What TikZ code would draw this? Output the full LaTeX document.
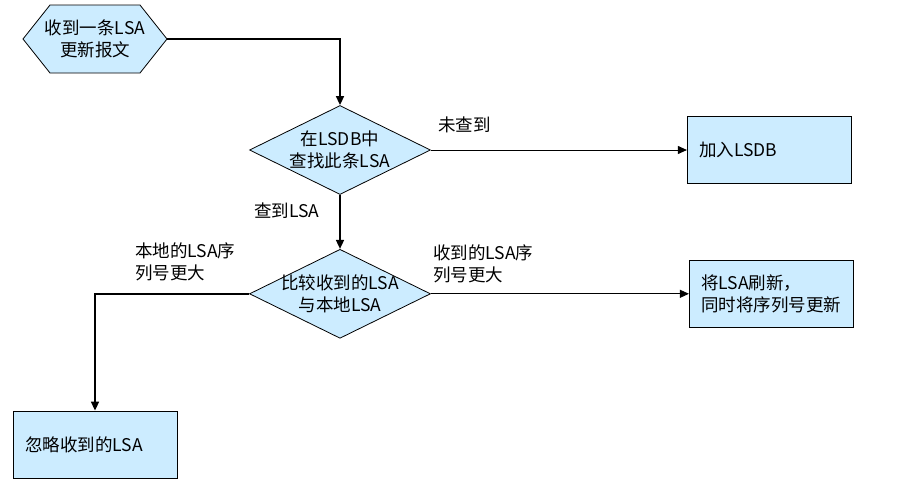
\documentclass[tikz,border=0pt]{standalone}
\usepackage{fontspec}
\setmainfont{Noto Sans CJK SC}
\usetikzlibrary{shapes.geometric, arrows.meta, positioning, backgrounds}
\definecolor{boxblue}{RGB}{204,236,255}

\tikzset{
    base/.style={draw, fill=boxblue, line width=0.8pt, font=\fontsize{17.5}{22}\selectfont, align=center},
    starttext/.style={font=\fontsize{17.5}{22}\selectfont, align=center, inner sep=0pt},
    hexa/.style={draw, fill=boxblue, line width=0.8pt},
    decision/.style={base, diamond, aspect=2, minimum width=181pt, minimum height=89pt, inner sep=-5pt},
    process/.style={base, rectangle, minimum height=67pt, text width=140pt, inner xsep=12pt, align=left},
    branch/.style={font=\fontsize{17.5}{22}\selectfont, align=left, inner sep=0pt, anchor=west},
    flow/.style={-{Triangle[length=9pt,width=8pt]}, line width=1.6pt},
    thinflow/.style={flow, line width=0.9pt}
}

\begin{document}
\begin{tikzpicture}[x=1pt, y=-1pt]
    \useasboundingbox (0,0) rectangle (918,498);

    \node [starttext] (recv) at (95,39) {收到一条LSA\\更新报文};
    \coordinate (recv tip) at ([xshift=72pt]recv.center);
    \begin{scope}[on background layer]
        \draw [hexa] ([shift={(-45,-34)}]recv.center) -- ([shift={(45,-34)}]recv.center) -- (recv tip)
            -- ([shift={(45,34)}]recv.center) -- ([shift={(-45,34)}]recv.center)
            -- ([xshift=-72pt]recv.center) -- cycle;
    \end{scope}
    \node [decision] (lookup) at (340,150) {在LSDB中\\查找此条LSA};
    \node [decision, below=54pt of lookup] (compare) {比较收到的LSA\\与本地LSA};
    \node [process, right=256pt of lookup] (add) {加入LSDB};
    \node [process, right=258pt of compare] (refresh) {将LSA刷新，\\同时将序列号更新};
    \node [process] (ignore) at (95,444.5) {忽略收到的LSA};

    \node [branch] (notfound) at (438,125) {未查到};
    \node [branch] (found) at (254,211) {查到LSA};
    \node [branch] (newer) at (433,263.5) {收到的LSA序\\列号更大};
    \node [branch] (older) at (135,262) {本地的LSA序\\列号更大};

    \draw [flow] (recv tip) -| (lookup.north);
    \draw [thinflow] (lookup.east) -- (add.west);
    \draw [flow] (lookup.south) -- (compare.north);
    \draw [thinflow] (compare.east) -- (refresh.west);
    \draw [flow] (compare.west) -| (ignore.north);
\end{tikzpicture}
\end{document}
